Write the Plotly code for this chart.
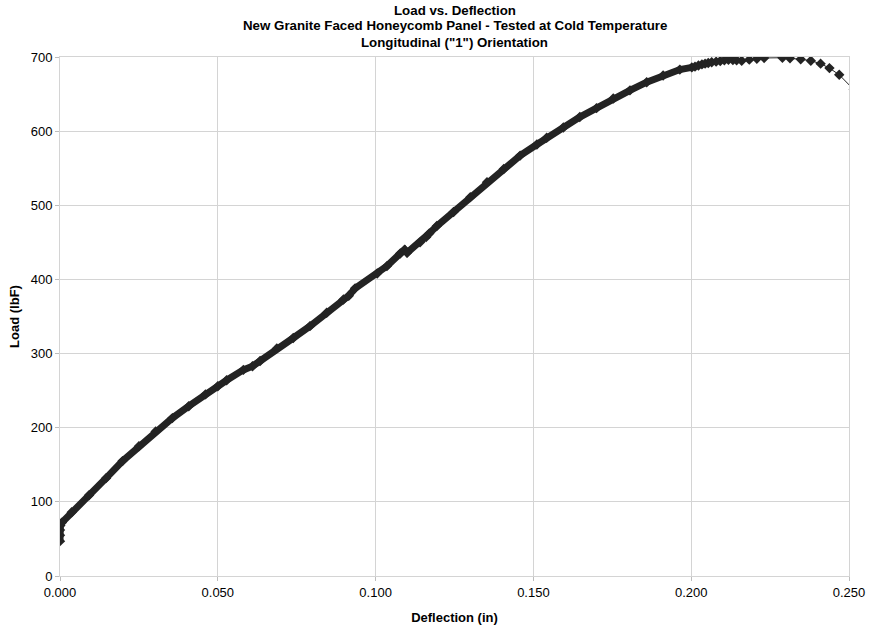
import plotly.graph_objects as go

# Load-deflection readings for the panel test (deflection in inches, load in lbF)
deflection = [
    0.0000, 0.0000, 0.0000, 0.0001, 0.0006, 0.0037, 0.0092, 0.0146, 0.0198,
    0.0250, 0.0303, 0.0356, 0.0408, 0.0461, 0.0500, 0.0528, 0.0581, 0.0610,
    0.0634, 0.0687, 0.0739, 0.0792, 0.0845, 0.0898, 0.0915, 0.0935, 0.1005,
    0.1036, 0.1078, 0.1092, 0.1100, 0.1141, 0.1160, 0.1170, 0.1194, 0.1247,
    0.1300, 0.1353, 0.1406, 0.1458, 0.1511, 0.1542, 0.1595, 0.1647, 0.1700,
    0.1753, 0.1806, 0.1859, 0.1911, 0.1964, 0.2002,
    0.2012, 0.2023, 0.2034, 0.2044, 0.2054, 0.2065, 0.2079, 0.2092, 0.2105,
    0.2118, 0.2132, 0.2144, 0.2160, 0.2184, 0.2208, 0.2231, 0.2289, 0.2313,
    0.2347, 0.2379, 0.2410, 0.2438, 0.2469, 0.2515,
]
load = [
    47, 55, 62, 68, 72, 86, 109, 132, 155,
    175, 195, 213, 229, 245, 256, 264, 278, 283,
    290, 307, 321, 337, 355, 373, 378, 388, 408,
    418, 435, 440, 436, 450, 457, 462, 472, 491,
    511, 531, 549, 567, 582, 591, 605, 619, 631,
    644, 655, 666, 675, 683, 686,
    687, 688.6, 690, 691, 692, 693, 693.7, 694.6, 695.6,
    696.2, 696, 695.6, 695, 696.4, 697.7, 698.7, 699, 698.3,
    697, 695, 691, 685, 676, 656,
]

x_ticks = [0.0, 0.05, 0.10, 0.15, 0.20, 0.25]
y_ticks = [0, 100, 200, 300, 400, 500, 600, 700]

title_lines = [
    "Load vs. Deflection",
    "New Granite Faced Honeycomb Panel - Tested at Cold Temperature",
    "Longitudinal (\"1\") Orientation",
]

INK = "#232323"
GRID = "#d4d4d4"
FONT = "Liberation Sans, Arial, sans-serif"

# plot-area geometry in pixels
W, H = 869, 630
M_L, M_R, M_T, M_B = 60, 20, 57, 54
PLOT_H = H - M_T - M_B

# densely sampled part of the record (up to 0.200 in) renders as a solid band
band_x = [d for d in deflection if d <= 0.2005]
band_y = load[:len(band_x)]

fig = go.Figure()
fig.add_trace(go.Scatter(
    x=band_x, y=band_y, mode="lines",
    line=dict(color=INK, width=7),
    hoverinfo="skip", showlegend=False,
))
fig.add_trace(go.Scatter(
    x=deflection, y=load, mode="lines+markers",
    line=dict(color=INK, width=1),
    marker=dict(symbol="diamond", size=8, color=INK),
    name="Load", showlegend=False,
))

# three-line bold heading, centred over the plot area
for text, y_px in zip(title_lines, [10, 26, 43]):
    fig.add_annotation(
        text=f"<b>{text}</b>", xref="paper", yref="paper",
        x=0.5, y=1 + (M_T - y_px) / PLOT_H, xanchor="center", yanchor="middle",
        showarrow=False, font=dict(family=FONT, size=13.3, color="#000"),
    )

fig.update_layout(
    width=W, height=H,
    margin=dict(l=M_L, r=M_R, t=M_T, b=M_B, autoexpand=False),
    paper_bgcolor="white", plot_bgcolor="white",
    font=dict(family=FONT, size=13, color="#000"),
)
fig.update_xaxes(
    range=[0, 0.25], tickvals=x_ticks, tickformat=".3f",
    showgrid=True, gridcolor=GRID, gridwidth=1,
    showline=True, mirror=True, linecolor=GRID, linewidth=1,
    ticks="outside", ticklen=4, tickcolor="#bdbdbd",
    zeroline=False, automargin=False,
    title=dict(text="<b>Deflection (in)</b>", font=dict(family=FONT, size=13), standoff=14),
)
fig.update_yaxes(
    range=[0, 700], tickvals=y_ticks,
    showgrid=True, gridcolor=GRID, gridwidth=1,
    showline=True, mirror=True, linecolor=GRID, linewidth=1,
    ticks="outside", ticklen=4, tickcolor="#bdbdbd",
    zeroline=False, automargin=False,
    title=dict(text="<b>Load (lbF)</b>", font=dict(family=FONT, size=13), standoff=8),
)

fig.write_html("out.html")
